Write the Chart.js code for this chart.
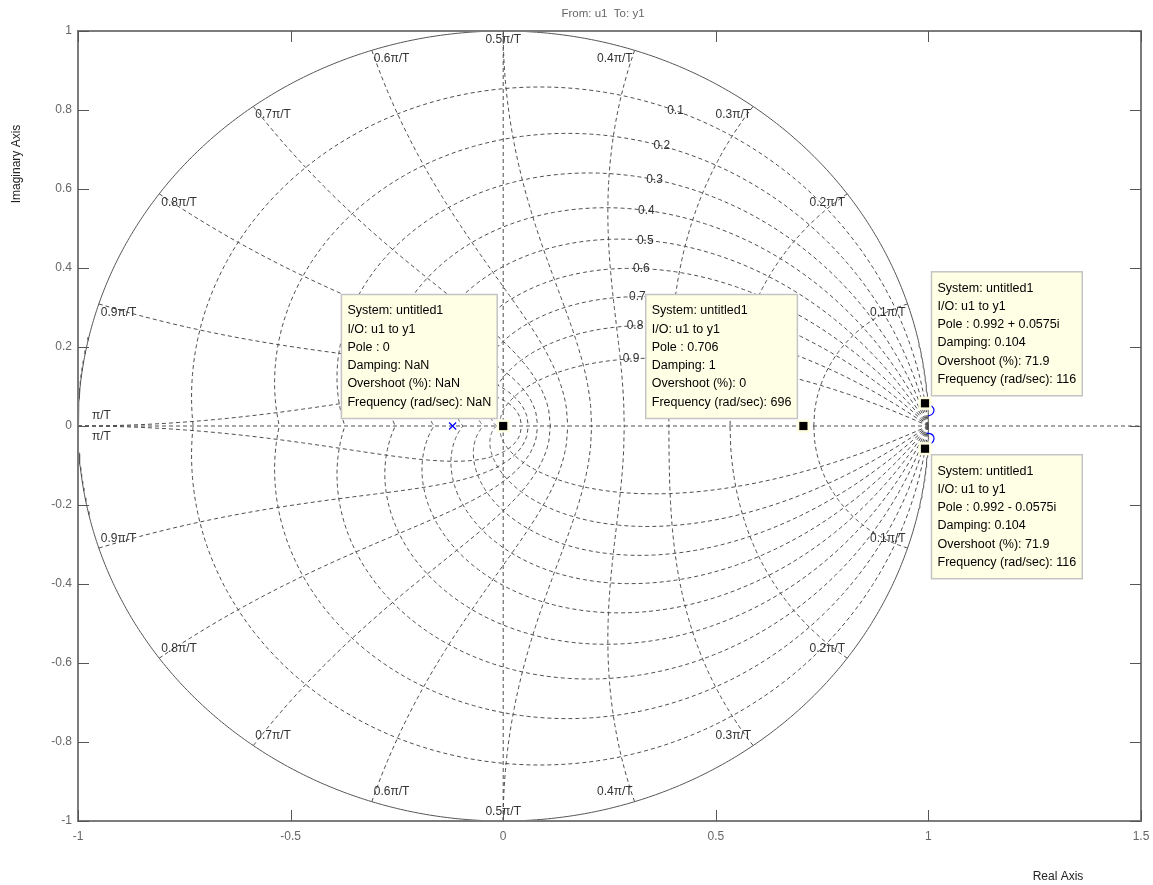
<!DOCTYPE html>
<html>
<head>
<meta charset="utf-8">
<title>Root locus – From: u1 To: y1</title>
<script src="https://cdn.jsdelivr.net/npm/chart.js@4.4.1/dist/chart.umd.min.js"></script>
<style>
  html, body { margin: 0; padding: 0; background: #ffffff; }
  #wrap { width: 1153px; height: 885px; position: relative; }
</style>
</head>
<body>
<div id="wrap"><canvas id="locus" width="1153" height="885"></canvas></div>
<script>
// ---- axis ticks ----
const realTicks = [-1, -0.5, 0, 0.5, 1, 1.5];
const imagTicks = [-1, -0.8, -0.6, -0.4, -0.2, 0, 0.2, 0.4, 0.6, 0.8, 1];

// ---- z-plane grid definition ----
const dampingRatios = [0.1, 0.2, 0.3, 0.4, 0.5, 0.6, 0.7, 0.8, 0.9];
const naturalFreqs = [0.1, 0.2, 0.3, 0.4, 0.5, 0.6, 0.7, 0.8, 0.9, 1.0];   // multiples of pi/T
const freqLabels = ['0.1\u03C0/T', '0.2\u03C0/T', '0.3\u03C0/T', '0.4\u03C0/T', '0.5\u03C0/T',
                    '0.6\u03C0/T', '0.7\u03C0/T', '0.8\u03C0/T', '0.9\u03C0/T', '\u03C0/T'];

// ---- closed-loop poles with data tips ----
const poleRe        = [0, 0.706, 0.992, 0.992];
const poleIm        = [0, 0, 0.0575, -0.0575];
const poleDamping   = [NaN, 1, 0.104, 0.104];
const poleOvershoot = [NaN, 0, 71.9, 71.9];
const poleFrequency = [NaN, 696, 116, 116];
const systemName = 'untitled1';
const ioName = 'u1 to y1';

// ---- open-loop pole and locus branches ----
const openLoopPoleRe = [-0.119];
const openLoopPoleIm = [0];
const branchUpperRe = [0.996, 1.006, 1.012, 1.013, 1.009, 0.999];
const branchUpperIm = [0.052, 0.051, 0.045, 0.038, 0.030, 0.025];
const branchLowerRe = [0.996, 1.006, 1.012, 1.013, 1.009, 0.999];
const branchLowerIm = [-0.018, -0.020, -0.026, -0.034, -0.042, -0.048];

// ---- drawing helpers ----
const FONT = '"Liberation Sans", Arial, sans-serif';
const fmt = v => String(Math.round(v * 10) / 10);
const zip = (re, im) => re.map((r, i) => ({ x: r, y: im[i] }));

// constant-damping spiral: z = exp(theta * (-m + j)), theta in [0, pi]
function dampingCurve(zeta, sign) {
  const m = zeta / Math.sqrt(1 - zeta * zeta);
  const pts = [];
  const n = 160;
  for (let i = 0; i <= n; i++) {
    const th = Math.PI * i / n;
    const r = Math.exp(-m * th);
    pts.push({ x: r * Math.cos(th), y: sign * r * Math.sin(th) });
  }
  return pts;
}
// constant natural frequency curve: z = exp(wT * (-zeta + j sqrt(1 - zeta^2))), zeta in [0, 1]
function freqCurve(frac, sign) {
  const w = frac * Math.PI;
  const pts = [];
  const n = 80;
  for (let i = 0; i <= n; i++) {
    const z = i / n;
    const r = Math.exp(-z * w);
    const a = w * Math.sqrt(1 - z * z);
    pts.push({ x: r * Math.cos(a), y: sign * r * Math.sin(a) });
  }
  return pts;
}
function unitCircle() {
  const pts = [];
  for (let i = 0; i <= 720; i++) {
    const a = 2 * Math.PI * i / 720;
    pts.push({ x: Math.cos(a), y: Math.sin(a) });
  }
  return pts;
}

const gridLine = { borderColor: '#4e4e4e', borderWidth: 1, borderDash: [4, 3], pointRadius: 0,
                   showLine: true, fill: false, tension: 0, order: 20 };

const datasets = [];
datasets.push(Object.assign({}, gridLine, { data: [{ x: -1, y: 0 }, { x: 1.5, y: 0 }] }));
datasets.push(Object.assign({}, gridLine, { data: [{ x: 0, y: -1 }, { x: 0, y: 1 }] }));
dampingRatios.forEach(z => {
  datasets.push(Object.assign({}, gridLine, { data: dampingCurve(z, 1) }));
  datasets.push(Object.assign({}, gridLine, { data: dampingCurve(z, -1) }));
});
naturalFreqs.forEach(f => {
  datasets.push(Object.assign({}, gridLine, { data: freqCurve(f, 1) }));
  datasets.push(Object.assign({}, gridLine, { data: freqCurve(f, -1) }));
});
datasets.push({ data: unitCircle(), borderColor: '#555555', borderWidth: 1, pointRadius: 0,
                showLine: true, fill: false, order: 19 });

// locus branches
[zip(branchUpperRe, branchUpperIm), zip(branchLowerRe, branchLowerIm)].forEach(d => {
  datasets.push({ data: d, borderColor: '#0000ff', borderWidth: 1.2, pointRadius: 0,
                  showLine: true, fill: false, tension: 0.4, order: 5 });
});
// open-loop pole marker
datasets.push({ data: zip(openLoopPoleRe, openLoopPoleIm), pointStyle: 'crossRot', pointRadius: 5,
                borderColor: '#0000ff', borderWidth: 1.2, showLine: false, order: 4 });
// data-tip markers: pale halo then black square
datasets.push({ data: zip(poleRe, poleIm), pointStyle: 'rect', pointRadius: 9.3,
                backgroundColor: '#ffffe1', borderWidth: 0, showLine: false, order: 3 });
datasets.push({ data: zip(poleRe, poleIm), pointStyle: 'rect', pointRadius: 5.8,
                backgroundColor: '#000000', borderWidth: 0, showLine: false, order: 2 });

// label angles (rad) along each damping spiral
const dampingLabelTheta = [1.101, 1.086, 1.052, 1.018, 0.953, 0.887, 0.804, 0.686, 0.515];
// data-tip box side relative to its marker
const tipSide = [{ h: 'left', v: 'up' }, { h: 'left', v: 'up' }, { h: 'right', v: 'up' }, { h: 'right', v: 'down' }];

const decorations = {
  id: 'decorations',
  afterDatasetsDraw(chart) {
    const ctx = chart.ctx;
    const xs = chart.scales.x, ys = chart.scales.y;
    const area = chart.chartArea;
    ctx.save();

    // damping ratio labels (upper half)
    ctx.font = '12px ' + FONT;
    ctx.fillStyle = '#333333';
    ctx.textAlign = 'center';
    ctx.textBaseline = 'middle';
    dampingRatios.forEach((z, i) => {
      const m = z / Math.sqrt(1 - z * z);
      const th = dampingLabelTheta[i];
      const r = Math.exp(-m * th);
      ctx.fillText(fmt(z), xs.getPixelForValue(r * Math.cos(th)), ys.getPixelForValue(r * Math.sin(th)));
    });

    // natural frequency labels on the unit circle
    naturalFreqs.forEach((f, i) => {
      const a = f * Math.PI;
      [1, -1].forEach(sg => {
        const c = Math.cos(a);
        const px = xs.getPixelForValue(c);
        const py = ys.getPixelForValue(sg * Math.sin(a));
        let align = Math.abs(c) < 1e-9 ? 'center' : (c > 0 ? 'right' : 'left');
        let dx = align === 'left' ? 2 : (align === 'right' ? -2 : 0);
        let dy = sg > 0 ? 8.5 : -9.5;
        if (f === 1) { align = 'left'; dx = 14; dy = sg > 0 ? -10 : 11; }
        ctx.textAlign = align;
        ctx.fillText(freqLabels[i], px + dx, py + dy);
      });
    });

    // frame and inward ticks
    ctx.strokeStyle = '#7c7c7c';
    ctx.lineWidth = 2;
    ctx.strokeRect(area.left, area.top, area.right - area.left, area.bottom - area.top);
    ctx.strokeStyle = '#555555';
    ctx.lineWidth = 1;
    const tl = 11;
    ctx.beginPath();
    realTicks.forEach(v => {
      const x = Math.round(xs.getPixelForValue(v)) + 0.5;
      ctx.moveTo(x, area.bottom); ctx.lineTo(x, area.bottom - tl);
      ctx.moveTo(x, area.top); ctx.lineTo(x, area.top + tl);
    });
    imagTicks.forEach(v => {
      const y = Math.round(ys.getPixelForValue(v)) + 0.5;
      ctx.moveTo(area.left, y); ctx.lineTo(area.left + tl, y);
      ctx.moveTo(area.right, y); ctx.lineTo(area.right - tl, y);
    });
    ctx.stroke();

    // data tips
    ctx.font = '12.5px ' + FONT;
    poleRe.forEach((re, i) => {
      const im = poleIm[i];
      const poleTxt = im === 0 ? String(re) : re + (im < 0 ? ' - ' : ' + ') + Math.abs(im) + 'i';
      const lines = [
        'System: ' + systemName,
        'I/O: ' + ioName,
        'Pole : ' + poleTxt,
        'Damping: ' + String(poleDamping[i]),
        'Overshoot (%): ' + String(poleOvershoot[i]),
        'Frequency (rad/sec): ' + String(poleFrequency[i])
      ];
      const w = Math.max(...lines.map(s => ctx.measureText(s).width)) + 12;
      const h = 124;
      const mx = xs.getPixelForValue(re), my = ys.getPixelForValue(im);
      const side = tipSide[i];
      const bx = side.h === 'left' ? mx - 6 - w : mx + 6.5;
      const by = side.v === 'up' ? my - 7.5 - h : my + 6;
      ctx.fillStyle = '#ffffe6';
      ctx.fillRect(bx, by, w, h);
      ctx.strokeStyle = '#c4c4c4';
      ctx.lineWidth = 1.5;
      ctx.strokeRect(bx, by, w, h);
      ctx.fillStyle = '#000000';
      ctx.textAlign = 'left';
      ctx.textBaseline = 'middle';
      lines.forEach((s, k) => ctx.fillText(s, bx + 6, by + 16.5 + k * 18.25));
    });

    // titles
    ctx.fillStyle = '#666666';
    ctx.font = '11.5px ' + FONT;
    ctx.textAlign = 'center';
    ctx.fillText('From: u1  To: y1', 603, 14);
    ctx.fillStyle = '#222222';
    ctx.font = '12px ' + FONT;
    ctx.fillText('Real Axis', 1058, 877);
    ctx.translate(17, 164);
    ctx.rotate(-Math.PI / 2);
    ctx.fillText('Imaginary Axis', 0, 0);
    ctx.restore();
  }
};

new Chart(document.getElementById('locus'), {
  type: 'scatter',
  data: { datasets },
  options: {
    responsive: false,
    animation: false,
    events: [],
    layout: { padding: { top: 31, right: 12, left: 0, bottom: 0 } },
    plugins: { legend: { display: false }, tooltip: { enabled: false }, title: { display: false } },
    scales: {
      x: {
        type: 'linear', min: -1, max: 1.5, position: 'bottom',
        afterBuildTicks: s => { s.ticks = realTicks.map(v => ({ value: v })); },
        afterFit: s => { s.height = 64; s.paddingLeft = 0; s.paddingRight = 0; },
        grid: { display: false, drawTicks: false },
        border: { display: false },
        ticks: { color: '#666666', font: { family: FONT, size: 12 }, padding: 8, maxRotation: 0,
                 autoSkip: false, callback: v => fmt(v) }
      },
      y: {
        type: 'linear', min: -1, max: 1, position: 'left',
        afterBuildTicks: s => { s.ticks = imagTicks.map(v => ({ value: v })); },
        afterFit: s => { s.width = 78; s.paddingTop = 0; s.paddingBottom = 0; },
        grid: { display: false, drawTicks: false },
        border: { display: false },
        ticks: { color: '#666666', font: { family: FONT, size: 12 }, padding: 6,
                 autoSkip: false, callback: v => fmt(v) }
      }
    }
  },
  plugins: [decorations]
});
</script>
</body>
</html>
